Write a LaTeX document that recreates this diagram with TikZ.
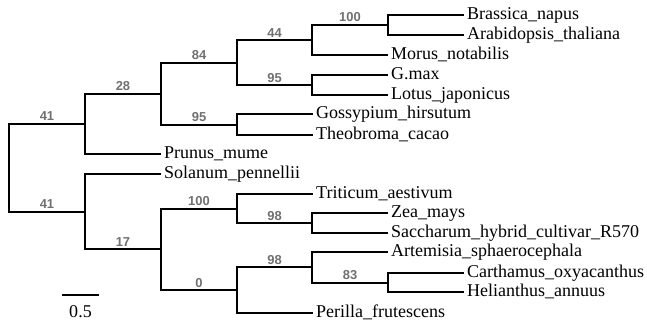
\documentclass[tikz,border=0pt]{standalone}
\usepackage{fontspec}
\setmainfont{Liberation Serif}
\newfontfamily\bsfont{Liberation Sans}
\definecolor{bsgray}{RGB}{112,112,112}
\begin{document}
\begin{tikzpicture}[x=1bp,y=-1bp,
  branch/.style={line width=2bp, line join=miter, line cap=rect},
  taxon/.style={anchor=base west, inner sep=0pt, xshift=4bp, yshift=-4.5bp,
     font=\fontsize{18.07}{20}\selectfont},
  bs/.style={pos=0.75, anchor=base, inner sep=0pt, yshift=3bp,
     font=\bsfont\bfseries\fontsize{13}{14}\selectfont, text=bsgray}]
\useasboundingbox (0,0) rectangle (647,322);
% internal nodes
\coordinate (R)    at (9,167.6);
\coordinate (U)    at (85,123.7);
\coordinate (N28)  at (161,93.5);
\coordinate (N84)  at (237,62.5);
\coordinate (N44)  at (312,40);
\coordinate (N100) at (388,24.5);
\coordinate (N95a) at (312,85);
\coordinate (N95b) at (237,124.5);
\coordinate (L)    at (85,211.5);
\coordinate (N17)  at (161,249);
\coordinate (N100b) at (237,208.5);
\coordinate (N98a) at (312,223);
\coordinate (N0)   at (237,290);
\coordinate (N98b) at (312,267);
\coordinate (N83)  at (388,282.5);
% leaf tips
\coordinate (tBn) at (463,15);
\coordinate (tAt) at (463,34.5);
\coordinate (tMn) at (387,55);
\coordinate (tGm) at (387,75);
\coordinate (tLj) at (387,95);
\coordinate (tGh) at (312,114);
\coordinate (tTc) at (312,135);
\coordinate (tPm) at (160,154);
\coordinate (tSp) at (160,174);
\coordinate (tTa) at (312,194);
\coordinate (tZm) at (387,213);
\coordinate (tSh) at (387,233);
\coordinate (tAs) at (387,252);
\coordinate (tCo) at (463,273);
\coordinate (tHa) at (463,292);
\coordinate (tPf) at (312,313);
% leaf labels
\node[taxon] (Bn) at (tBn) {Brassica\_napus};
\node[taxon] (At) at (tAt) {Arabidopsis\_thaliana};
\node[taxon] (Mn) at (tMn) {Morus\_notabilis};
\node[taxon] (Gm) at (tGm) {G.max};
\node[taxon] (Lj) at (tLj) {Lotus\_japonicus};
\node[taxon] (Gh) at (tGh) {Gossypium\_hirsutum};
\node[taxon] (Tc) at (tTc) {Theobroma\_cacao};
\node[taxon] (Pm) at (tPm) {Prunus\_mume};
\node[taxon] (Sp) at (tSp) {Solanum\_pennellii};
\node[taxon] (Ta) at (tTa) {Triticum\_aestivum};
\node[taxon] (Zm) at (tZm) {Zea\_mays};
\node[taxon] (Sh) at (tSh) {Saccharum\_hybrid\_cultivar\_R570};
\node[taxon] (As) at (tAs) {Artemisia\_sphaerocephala};
\node[taxon] (Co) at (tCo) {Carthamus\_oxyacanthus};
\node[taxon] (Ha) at (tHa) {Helianthus\_annuus};
\node[taxon] (Pf) at (tPf) {Perilla\_frutescens};
% branches
\draw[branch] (R) |- (U) node[bs]{41};
\draw[branch] (R) |- (L) node[bs]{41};
\draw[branch] (U) |- (N28) node[bs]{28};
\draw[branch] (U) |- (tPm);
\draw[branch] (N28) |- (N84) node[bs]{84};
\draw[branch] (N28) |- (N95b) node[bs]{95};
\draw[branch] (N84) |- (N44) node[bs]{44};
\draw[branch] (N84) |- (N95a) node[bs]{95};
\draw[branch] (N44) |- (N100) node[bs]{100};
\draw[branch] (N44) |- (tMn);
\draw[branch] (N100) |- (tBn);
\draw[branch] (N100) |- (tAt);
\draw[branch] (N95a) |- (tGm);
\draw[branch] (N95a) |- (tLj);
\draw[branch] (N95b) |- (tGh);
\draw[branch] (N95b) |- (tTc);
\draw[branch] (L) |- (tSp);
\draw[branch] (L) |- (N17) node[bs]{17};
\draw[branch] (N17) |- (N100b) node[bs]{100};
\draw[branch] (N17) |- (N0) node[bs]{0};
\draw[branch] (N100b) |- (tTa);
\draw[branch] (N100b) |- (N98a) node[bs]{98};
\draw[branch] (N98a) |- (tZm);
\draw[branch] (N98a) |- (tSh);
\draw[branch] (N0) |- (N98b) node[bs]{98};
\draw[branch] (N0) |- (tPf);
\draw[branch] (N98b) |- (tAs);
\draw[branch] (N98b) |- (N83) node[bs]{83};
\draw[branch] (N83) |- (tCo);
\draw[branch] (N83) |- (tHa);
% scale bar
\coordinate (sb1) at (62,295);
\coordinate (sb2) at (99,295);
\draw[line width=2bp] (sb1) -- (sb2);
\node[anchor=base, inner sep=0pt, font=\fontsize{18.07}{20}\selectfont] (sbl) at (80.5,317) {0.5};
\end{tikzpicture}
\end{document}
